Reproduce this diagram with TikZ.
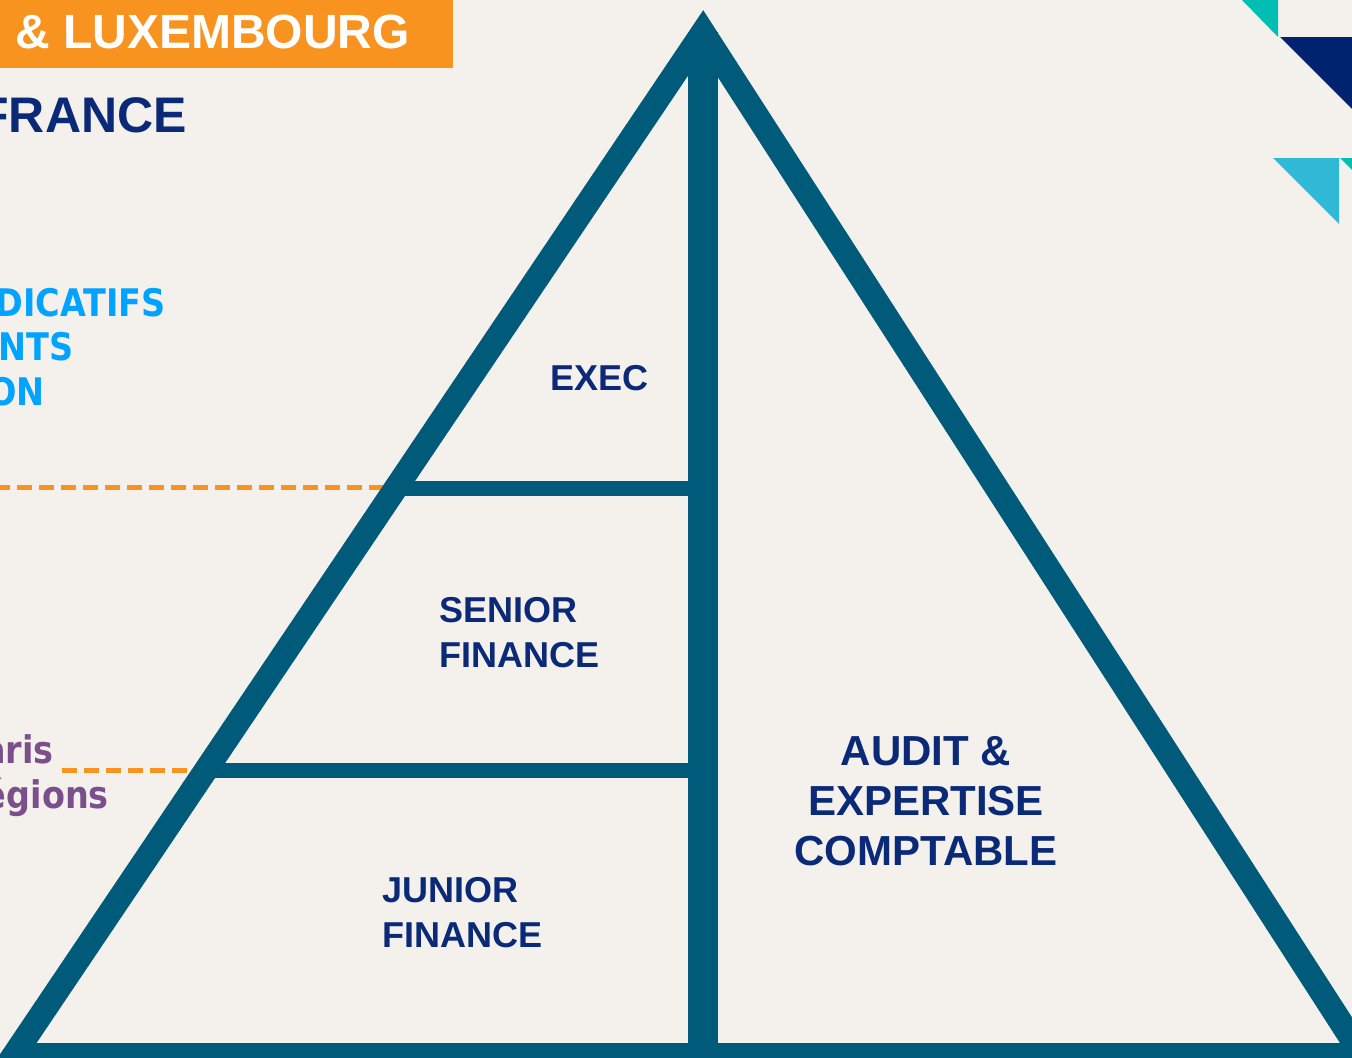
\documentclass[tikz,border=0pt]{standalone}
\usepackage{fontspec}
\setmainfont{Liberation Sans}
\newfontfamily\verd{DejaVu Sans}[FakeStretch=0.88]
\definecolor{bgc}{HTML}{F4F0EC}
\definecolor{pyr}{HTML}{005B7A}
\definecolor{orng}{HTML}{F7931E}
\definecolor{navy}{HTML}{0A2A78}
\definecolor{tealc}{HTML}{00BFB2}
\definecolor{dnavy}{HTML}{00236F}
\definecolor{lblue}{HTML}{30B9D7}
\definecolor{azure}{HTML}{00A3FF}
\definecolor{purp}{HTML}{7B4F8B}
\tikzset{
  lbl/.style={inner sep=0pt, text=navy, font=\bfseries\fontsize{27}{33.75}\selectfont, align=left},
  side/.style={inner sep=0pt, font=\verd\bfseries\fontsize{28.5}{30}\selectfont},
  dashline/.style={orng, line width=3.75pt, dash pattern=on 11.25pt off 5.25pt},
  pyrline/.style={pyr, line join=miter}
}
\begin{document}
\begin{tikzpicture}[x=0.75pt,y=-0.75pt]
\path[use as bounding box, fill=bgc] (0,0) rectangle (1352,1057);
% corner decorations
\fill[tealc] (1242,0) -- (1278,0) -- (1278,37) -- cycle;
\fill[dnavy] (1280,37) -- (1352,37) -- (1352,109) -- cycle;
\fill[lblue] (1273,158) -- (1339,158) -- (1339,224) -- cycle;
\fill[tealc] (1340,158) -- (1352,158) -- (1352,170) -- cycle;
% header
\fill[orng] (0,0) rectangle (453,68);
\node[inner sep=0pt, anchor=base west, text=white, font=\bfseries\fontsize{36}{40}\selectfont] (lux) at (15,48) {\& LUXEMBOURG};
\node[inner sep=0pt, anchor=base east, text=navy, font=\bfseries\fontsize{37.5}{40}\selectfont] (fr) at (187,132) {FRANCE};
% left side texts
\node[side, anchor=base east, text=azure] (t1) at (166,316) {DICATIFS};
\node[side, anchor=base east, text=azure] (t2) at (74,360) {NTS};
\node[side, anchor=base east, text=azure] (t3) at (45,405) {ON};
\node[side, anchor=base east, text=purp] (t4) at (54,763) {aris};
\node[side, anchor=base east, text=purp] (t5) at (109,808) {égions};
% pyramid geometry
\coordinate (A) at (703,32);
\coordinate (BL) at (14,1055);
\coordinate (BR) at (1362,1055);
\coordinate (M) at (703,1055);
\coordinate (U1) at (398,488);
\coordinate (U2) at (703,488);
\coordinate (L1) at (208,770);
\coordinate (L2) at (703,770);
\coordinate (d1s) at (0,487);
\coordinate (d1e) at (392,487);
\coordinate (d2s) at (62,770);
\coordinate (d2e) at (204,770);
% dashed leaders
\draw[dashline, dash phase=3.75pt] (d1s) -- (d1e);
\draw[dashline] (d2s) -- (d2e);
% pyramid
\draw[pyrline, line width=11.25pt] (U1) -- (U2);
\draw[pyrline, line width=11.25pt] (L1) -- (L2);
\draw[pyrline, line width=22.5pt] (A) -- (M);
\draw[pyrline, line width=18pt] (A) -- (BL) -- (BR) -- cycle;
% labels
\node[lbl, anchor=base west] (exec) at (550,390) {EXEC};
\node[lbl, anchor=base west] (senior) at (439,667) {SENIOR\\FINANCE};
\node[lbl, anchor=base west] (junior) at (382,947) {JUNIOR\\FINANCE};
\node[lbl, align=center, anchor=base, font=\bfseries\fontsize{31.5}{37.5}\selectfont] (audit) at (926,865) {AUDIT \&\\EXPERTISE\\COMPTABLE};
\end{tikzpicture}
\end{document}
